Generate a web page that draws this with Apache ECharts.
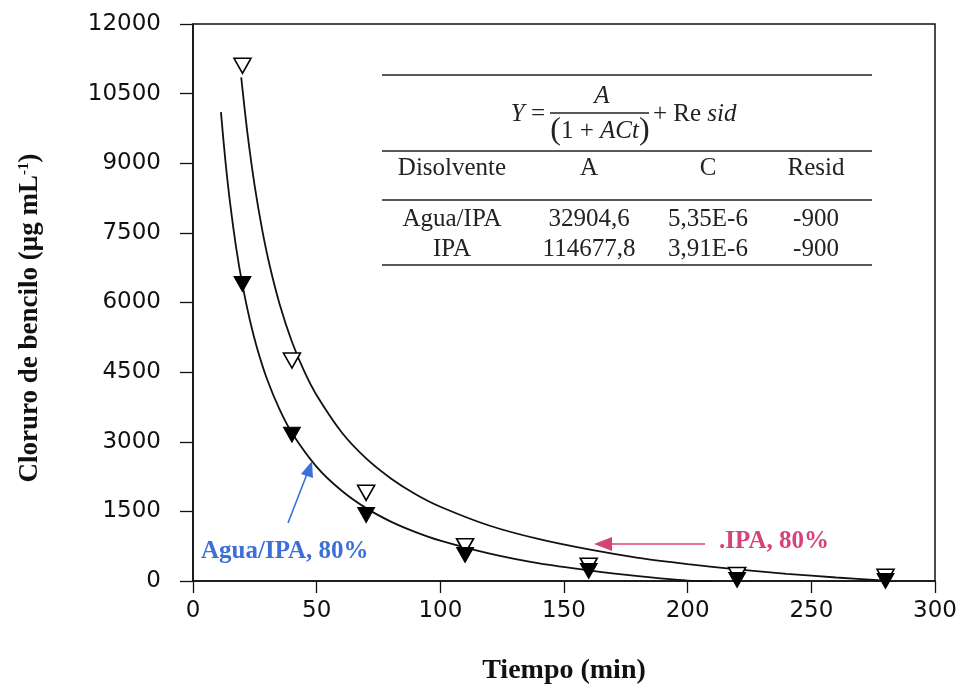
<!DOCTYPE html>
<html><head><meta charset="utf-8">
<script src="https://cdn.jsdelivr.net/npm/echarts@6/dist/echarts.min.js"></script>
<style>html,body{margin:0;padding:0;background:#fff}#c{width:964px;height:694px}</style>
</head><body><div id="c"></div>
<script>
// Measured points
const tiempo = [20, 40, 70, 110, 160, 220, 280];
const ipa = [11100, 4750, 1900, 750, 330, 130, 90];
const aguaIpa = [6400, 3150, 1420, 560, 215, 20, 0];
// Fitted curves
const curveIpaT = [19.5, 22, 25, 28, 31, 35, 40, 45, 50, 60, 70, 80, 90, 100, 120, 140, 160, 180, 200, 220, 240, 260, 280];
const curveIpaY = [10850, 9655, 8490, 7560, 6796, 5970, 5155, 4514, 4000, 3210, 2640, 2210, 1870, 1600, 1190, 900, 680, 500, 365, 250, 155, 75, 5];
const curveAguaT = [11.3, 13, 15, 17.5, 20, 23, 26, 30, 35, 40, 50, 60, 70, 80, 90, 100, 120, 140, 160, 180, 200, 210];
const curveAguaY = [10100, 9104, 8140, 7163, 6380, 5617, 5000, 4340, 3695, 3190, 2460, 1950, 1570, 1280, 1054, 870, 590, 380, 230, 105, 10, 0];
// Axes
const xMin = 0, xMax = 300, xStep = 50;
const yMin = 0, yMax = 12000, yStep = 1500;
// Fit table
const tableHeader = ['Disolvente', 'A', 'C', 'Resid'];
const tableRows = [
  ['Agua/IPA', '32904,6', '5,35E-6', '-900'],
  ['IPA', '114677,8', '3,91E-6', '-900']
];
const labelAgua = 'Agua/IPA, 80%';
const labelIpa = 'IPA, 80%';

const zip = (a, b) => a.map((v, i) => [v, b[i]]);
const serif = '"Liberation Serif", "Times New Roman", serif';
const sans = '"DejaVu Sans", Arial, sans-serif';
const blue = '#3d6fd9';
const pink = '#d6437a';
const TF = 25;

const colX = [452, 589, 708, 816];
const tableGraphics = [];
[75, 151, 200, 265].forEach(y => tableGraphics.push({
  type: 'line', shape: {x1: 382, y1: y, x2: 872, y2: y}, style: {stroke: '#222', lineWidth: 1.4}, z: 10
}));
tableHeader.forEach((t, i) => tableGraphics.push({
  type: 'text', x: colX[i], y: 168, style: {text: t, font: TF + 'px ' + serif, fill: '#222', textAlign: 'center', textVerticalAlign: 'middle'}, z: 10
}));
tableRows.forEach((row, r) => row.forEach((t, i) => tableGraphics.push({
  type: 'text', x: colX[i], y: 219 + r * 30, style: {text: t, font: TF + 'px ' + serif, fill: '#222', textAlign: 'center', textVerticalAlign: 'middle'}, z: 10
})));
// formula
tableGraphics.push(
  {type: 'text', x: 545, y: 114, style: {text: '{i|Y} =', rich: {i: {fontStyle: 'italic', fontFamily: serif, fontSize: TF}}, fontFamily: serif, fontSize: TF, fill: '#222', textAlign: 'right', textVerticalAlign: 'middle'}, z: 10},
  {type: 'line', shape: {x1: 550, y1: 113, x2: 649, y2: 113}, style: {stroke: '#222', lineWidth: 1.4}, z: 10},
  {type: 'text', x: 602, y: 96, style: {text: 'A', font: 'italic ' + TF + 'px ' + serif, fill: '#222', textAlign: 'center', textVerticalAlign: 'middle'}, z: 10},
  {type: 'text', x: 600, y: 131, style: {text: '{p|(}1 + {i|ACt}{p|)}', rich: {i: {fontStyle: 'italic', fontFamily: serif, fontSize: TF}, p: {fontFamily: serif, fontSize: 32}}, fontFamily: serif, fontSize: TF, fill: '#222', textAlign: 'center', textVerticalAlign: 'middle'}, z: 10},
  {type: 'text', x: 653, y: 114, style: {text: '+ Re {i|sid}', rich: {i: {fontStyle: 'italic', fontFamily: serif, fontSize: TF}}, fontFamily: serif, fontSize: TF, fill: '#222', textAlign: 'left', textVerticalAlign: 'middle'}, z: 10}
);
// annotations
const annGraphics = [
  {type: 'text', x: 201, y: 552, style: {text: labelAgua, font: 'bold 25px ' + serif, fill: blue, textAlign: 'left', textVerticalAlign: 'middle'}, z: 10},
  {type: 'line', shape: {x1: 288, y1: 523, x2: 307, y2: 474}, style: {stroke: blue, lineWidth: 1.6}, z: 10},
  {type: 'polygon', shape: {points: [[312, 461], [301, 474], [313, 478]]}, style: {fill: blue}, z: 10},
  {type: 'text', x: 719, y: 542, style: {text: '.' + labelIpa, font: 'bold 25px ' + serif, fill: pink, textAlign: 'left', textVerticalAlign: 'middle'}, z: 10},
  {type: 'line', shape: {x1: 705, y1: 544, x2: 608, y2: 544}, style: {stroke: pink, lineWidth: 1.6}, z: 10},
  {type: 'polygon', shape: {points: [[594, 544], [612, 537], [612, 551]]}, style: {fill: pink}, z: 10},
  {type: 'text', x: 30, y: 318, rotation: Math.PI / 2, style: {text: '{a|Cloruro de bencilo (μg mL}{s|-1}{a|)}', rich: {a: {fontFamily: serif, fontWeight: 'bold', fontSize: 27, fill: '#111'}, s: {fontFamily: serif, fontWeight: 'bold', fontSize: 15, fill: '#111', verticalAlign: 'top', padding: [0, 0, 12, 0]}}, textAlign: 'center', textVerticalAlign: 'middle'}, z: 10}
];

const chart = echarts.init(document.getElementById('c'), null, {renderer: 'canvas'});
chart.setOption({
  backgroundColor: '#fff',
  animation: false,
  grid: {left: 193, right: 29, top: 24, bottom: 113, outerBoundsMode: 'none', containLabel: false, show: true, borderColor: '#111', borderWidth: 1.5, backgroundColor: 'transparent'},
  xAxis: {
    type: 'value', min: xMin, max: xMax, interval: xStep,
    name: 'Tiempo (min)', nameLocation: 'middle', nameGap: 76,
    nameTextStyle: {fontFamily: serif, fontWeight: 'bold', fontSize: 28, color: '#111'},
    axisLine: {lineStyle: {color: '#111', width: 1.6}},
    axisTick: {inside: false, length: 12, lineStyle: {color: '#111', width: 1.3}},
    axisLabel: {fontFamily: sans, fontSize: 23, color: '#111', margin: 19, formatter: v => String(v)},
    splitLine: {show: false}
  },
  yAxis: {
    type: 'value', min: yMin, max: yMax, interval: yStep,
    axisLine: {lineStyle: {color: '#111', width: 1.6}},
    axisTick: {inside: false, length: 13, lineStyle: {color: '#111', width: 1.3}},
    axisLabel: {fontFamily: sans, fontSize: 23, color: '#111', margin: 32, formatter: v => String(v)},
    splitLine: {show: false}
  },
  series: [
    {type: 'line', data: zip(curveIpaT, curveIpaY), smooth: 0.3, showSymbol: false, lineStyle: {color: '#111', width: 1.8}, clip: true, z: 2},
    {type: 'line', data: zip(curveAguaT, curveAguaY), smooth: 0.3, showSymbol: false, lineStyle: {color: '#111', width: 1.8}, clip: true, z: 2},
    {type: 'scatter', name: 'IPA', data: zip(tiempo, ipa), symbol: 'triangle', symbolRotate: 180, symbolSize: [17, 15],
      itemStyle: {color: '#fff', borderColor: '#000', borderWidth: 1.6, opacity: 1}, z: 3, clip: false},
    {type: 'scatter', name: 'Agua/IPA', data: zip(tiempo, aguaIpa), symbol: 'triangle', symbolRotate: 180, symbolSize: [17, 15],
      itemStyle: {color: '#000', borderColor: '#000', borderWidth: 1, opacity: 1}, z: 4, clip: false}
  ],
  graphic: tableGraphics.concat(annGraphics)
});
</script>
</body></html>
